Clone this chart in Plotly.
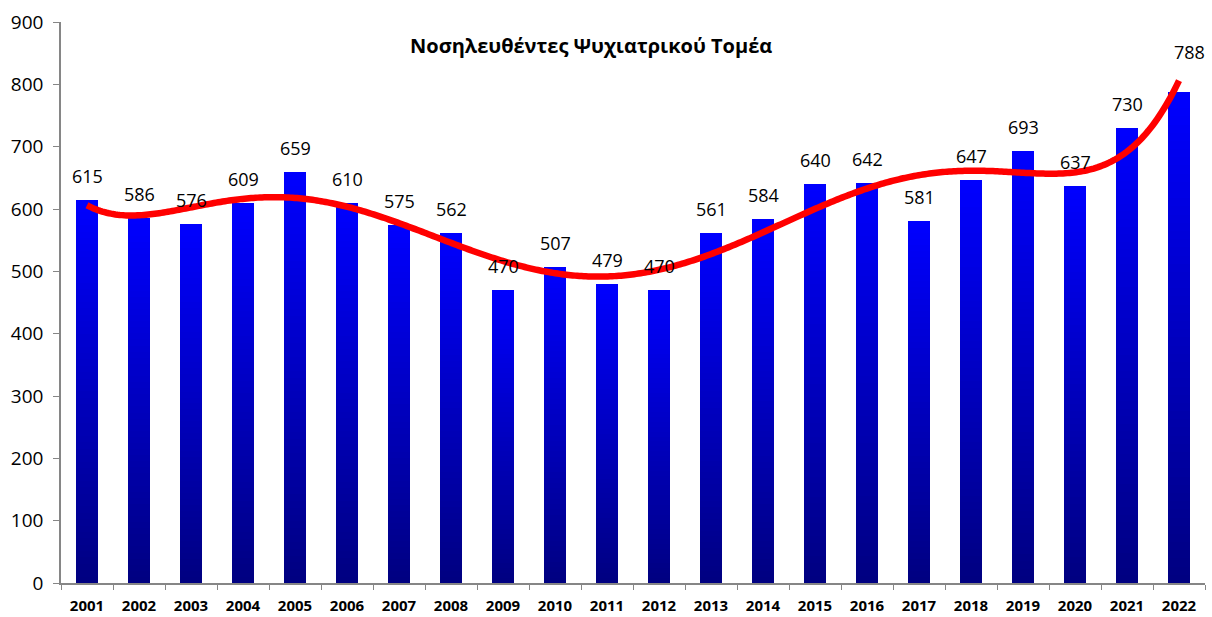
import numpy as np
import plotly.graph_objects as go

# Annual in-patient counts, psychiatric sector
years = [str(y) for y in range(2001, 2023)]
patients = [615, 586, 576, 609, 659, 610, 575, 562, 470, 507, 479,
            470, 561, 584, 640, 642, 581, 647, 693, 637, 730, 788]
y_ticks = [0, 100, 200, 300, 400, 500, 600, 700, 800, 900]
title_text = "Νοσηλευθέντες Ψυχιατρικού Τομέα"

LABEL_FONT = "Open Sans"
N_STEPS = 60  # vertical gradient resolution of each bar

n = len(patients)
idx = np.arange(n, dtype=float)
vals = np.array(patients, dtype=float)

fig = go.Figure()

# Each bar is a stack of thin slices shading from navy (base) to blue (top)
for k in range(N_STEPS):
    t = (k + 0.5) / N_STEPS
    b = int(round(128 + (255 - 128) * t))
    fig.add_trace(go.Bar(
        x=idx, y=vals / N_STEPS,
        marker=dict(color=f"rgb(0,0,{b})", line=dict(width=0)),
        width=0.42, showlegend=False, hoverinfo="skip",
    ))

# 6th-order polynomial trend line through the yearly values
coef = np.polyfit(idx, vals, 6)
xs = np.linspace(0, n - 1, 500)
ys = np.polyval(coef, xs)
fig.add_trace(go.Scatter(
    x=xs, y=ys, mode="lines",
    line=dict(color="#FF0000", width=6.5, simplify=False),
    showlegend=False, hoverinfo="skip",
))

# Value labels above each bar
for i, v in enumerate(patients):
    last = i == n - 1
    fig.add_annotation(
        x=i, y=v, text=str(v), showarrow=False,
        yshift=40 if last else 24, xshift=10 if last else 0,
        font=dict(family=LABEL_FONT, size=18, color="#000000"),
    )

fig.add_annotation(
    xref="paper", yref="paper", x=0.463, y=0.958,
    xanchor="center", yanchor="middle",
    text=f"<b>{title_text}</b>", showarrow=False,
    font=dict(family=LABEL_FONT, size=20, color="#000000"),
)

fig.update_layout(
    width=1212, height=617,
    margin=dict(l=61, r=7, t=22, b=34),
    paper_bgcolor="white", plot_bgcolor="white",
    barmode="stack", bargap=0,
    xaxis=dict(
        range=[-0.5, n - 0.5], automargin=False,
        tickvals=list(idx), ticktext=years, ticks="",
        minor=dict(tick0=-0.5, dtick=1, ticks="outside", ticklen=5,
                   tickcolor="#868686", showgrid=False),
        showline=True, linecolor="#868686", linewidth=1.5,
        tickfont=dict(family=LABEL_FONT, size=15, color="#000000", weight="bold"),
        ticklabelstandoff=8,
        tickangle=0, showgrid=False, zeroline=False,
    ),
    yaxis=dict(
        range=[0, 900], tickvals=y_ticks, automargin=False,
        showline=True, linecolor="#868686", linewidth=1.5,
        ticks="outside", ticklen=6, tickcolor="#868686",
        tickfont=dict(family=LABEL_FONT, size=19, color="#000000"),
        ticklabelstandoff=6,
        showgrid=False, zeroline=False,
    ),
)

fig.write_html("out.html")
